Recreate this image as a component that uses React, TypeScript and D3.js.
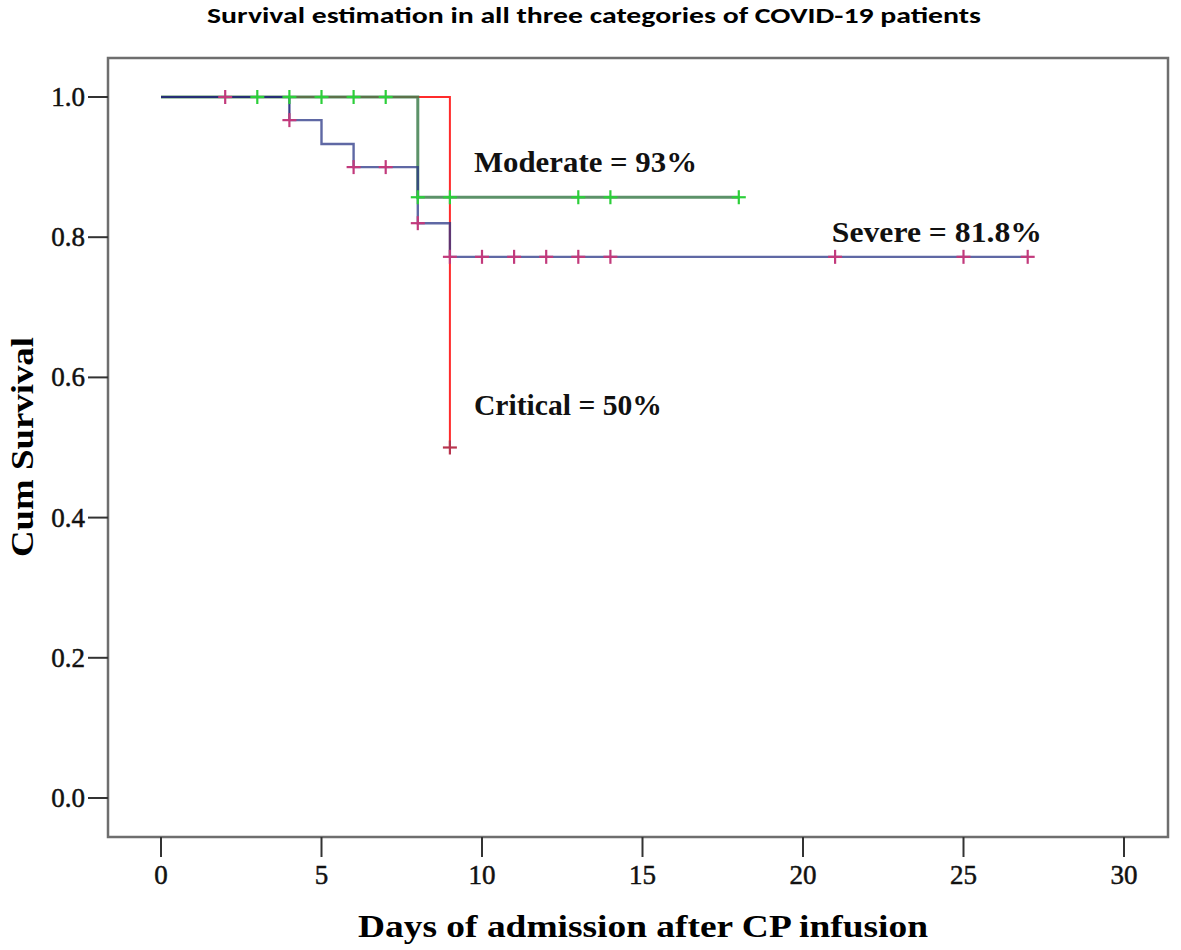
import React from "react";
import * as d3 from "d3";

// ---- Data ----
const xTicks = [0, 5, 10, 15, 20, 25, 30];
const yTicks = [0.0, 0.2, 0.4, 0.6, 0.8, 1.0];

// Step curves: [day, cumulative survival]
const criticalSteps: [number, number][] = [[0, 1], [9, 1], [9, 0.5]];
const moderateSteps: [number, number][] = [[0, 1], [8, 1], [8, 0.857], [18, 0.857]];
const severeSteps: [number, number][] = [
  [0, 1], [4, 1], [4, 0.967], [5, 0.967], [5, 0.933], [6, 0.933], [6, 0.9],
  [8, 0.9], [8, 0.82], [9, 0.82], [9, 0.772], [27, 0.772],
];

// Censored observations
const criticalCensorDays = [9];
const criticalCensorSurv = [0.5];
const moderateCensorDays = [3, 4, 5, 6, 7, 8, 9, 13, 14, 18];
const moderateCensorSurv = [1, 1, 1, 1, 1, 0.857, 0.857, 0.857, 0.857, 0.857];
const severeCensorDays = [2, 4, 6, 7, 8, 9, 10, 11, 12, 13, 14, 21, 25, 27];
const severeCensorSurv = [1, 0.967, 0.9, 0.9, 0.82, 0.772, 0.772, 0.772, 0.772, 0.772, 0.772, 0.772, 0.772, 0.772];

const annotations = [
  { text: "Moderate = 93%", day: 9.75, surv: 0.893, len: 223 },
  { text: "Severe = 81.8%", day: 20.9, surv: 0.793, len: 210 },
  { text: "Critical = 50%", day: 9.75, surv: 0.546, len: 188 },
];

const W = 1181;
const H = 950;
const box = { left: 108, top: 58, right: 1168, bottom: 837 };

export default function App() {
  const x = d3.scaleLinear().domain([0, 30]).range([161, 1124]);
  const y = d3.scaleLinear().domain([0, 1]).range([798, 97]);
  const line = d3
    .line<[number, number]>()
    .x((d) => x(d[0]))
    .y((d) => y(d[1]));

  const serif = "'Liberation Serif', 'Times New Roman', serif";

  const cross = (cx: number, cy: number, color: string, key: string, w = 2.2) => (
    <g key={key} stroke={color} strokeWidth={w}>
      <line x1={cx - 7} x2={cx + 7} y1={cy} y2={cy} />
      <line x1={cx} x2={cx} y1={cy - 7} y2={cy + 7} />
    </g>
  );

  return (
    <svg width={W} height={H} style={{ display: "block", position: "absolute", left: 0, top: 0, background: "#fff" }}>
      <rect x={0} y={0} width={W} height={H} fill="#fff" />
      <text
        x={594}
        y={23}
        textAnchor="middle"
        fontFamily="Carlito, Calibri, 'Liberation Sans Narrow', 'Open Sans', sans-serif"
        fontWeight="bold"
        fontSize={23}
        textLength={774}
        lengthAdjust="spacingAndGlyphs"
        fill="#000"
      >
        Survival estimation in all three categories of COVID-19 patients
      </text>

      {/* Plot frame */}
      <rect
        x={box.left}
        y={box.top}
        width={box.right - box.left}
        height={box.bottom - box.top}
        fill="none"
        stroke="#6e6e6e"
        strokeWidth={2.5}
      />

      {/* Y axis ticks */}
      {yTicks.map((t) => (
        <g key={"y" + t}>
          <line x1={88} x2={box.left} y1={y(t)} y2={y(t)} stroke="#333" strokeWidth={2} />
          <text x={85} y={y(t) + 9} textAnchor="end" fontFamily={serif} fontSize={27} fill="#111" stroke="#111" strokeWidth={0.5}>
            {t.toFixed(1)}
          </text>
        </g>
      ))}
      {/* X axis ticks */}
      {xTicks.map((t) => (
        <g key={"x" + t}>
          <line x1={x(t)} x2={x(t)} y1={box.bottom} y2={857} stroke="#333" strokeWidth={2} />
          <text x={x(t)} y={884} textAnchor="middle" fontFamily={serif} fontSize={27} fill="#111" stroke="#111" strokeWidth={0.5}>
            {t}
          </text>
        </g>
      ))}

      {/* Axis titles */}
      <text
        x={643}
        y={937}
        textAnchor="middle"
        fontFamily={serif}
        fontWeight="bold"
        fontSize={31}
        textLength={570}
        lengthAdjust="spacingAndGlyphs"
        fill="#000"
      >
        Days of admission after CP infusion
      </text>
      <text
        transform="translate(33,447) rotate(-90)"
        textAnchor="middle"
        fontFamily={serif}
        fontWeight="bold"
        fontSize={31}
        textLength={220}
        lengthAdjust="spacingAndGlyphs"
        fill="#000"
      >
        Cum Survival
      </text>

      {/* Curves */}
      <path d={line(criticalSteps) || ""} fill="none" stroke="#ff2b2b" strokeWidth={2} />
      <path d={line(moderateSteps) || ""} fill="none" stroke="#3f7f4f" strokeOpacity={0.85} strokeWidth={3} />
      <path d={line(severeSteps.slice(0, 3)) || ""} fill="none" stroke="#20287a" strokeWidth={2.2} strokeOpacity={0.9} />
      <path d={line(severeSteps.slice(2)) || ""} fill="none" stroke="#2a3585" strokeWidth={2.4} strokeOpacity={0.75} />

      {/* Censor marks */}
      {moderateCensorDays.map((d, i) => cross(x(d), y(moderateCensorSurv[i]), "#2ccf3a", "m" + i))}
      {severeCensorDays.map((d, i) => cross(x(d), y(severeCensorSurv[i]), "#c23a7c", "s" + i))}
      {criticalCensorDays.map((d, i) => cross(x(d), y(criticalCensorSurv[i]), "#b8344e", "c" + i))}

      {/* Annotations */}
      {annotations.map((a) => (
        <text
          key={a.text}
          x={x(a.day)}
          y={y(a.surv)}
          fontFamily={serif}
          fontWeight="bold"
          fontSize={29}
          textLength={a.len}
          lengthAdjust="spacingAndGlyphs"
          fill="#111"
        >
          {a.text}
        </text>
      ))}
    </svg>
  );
}
